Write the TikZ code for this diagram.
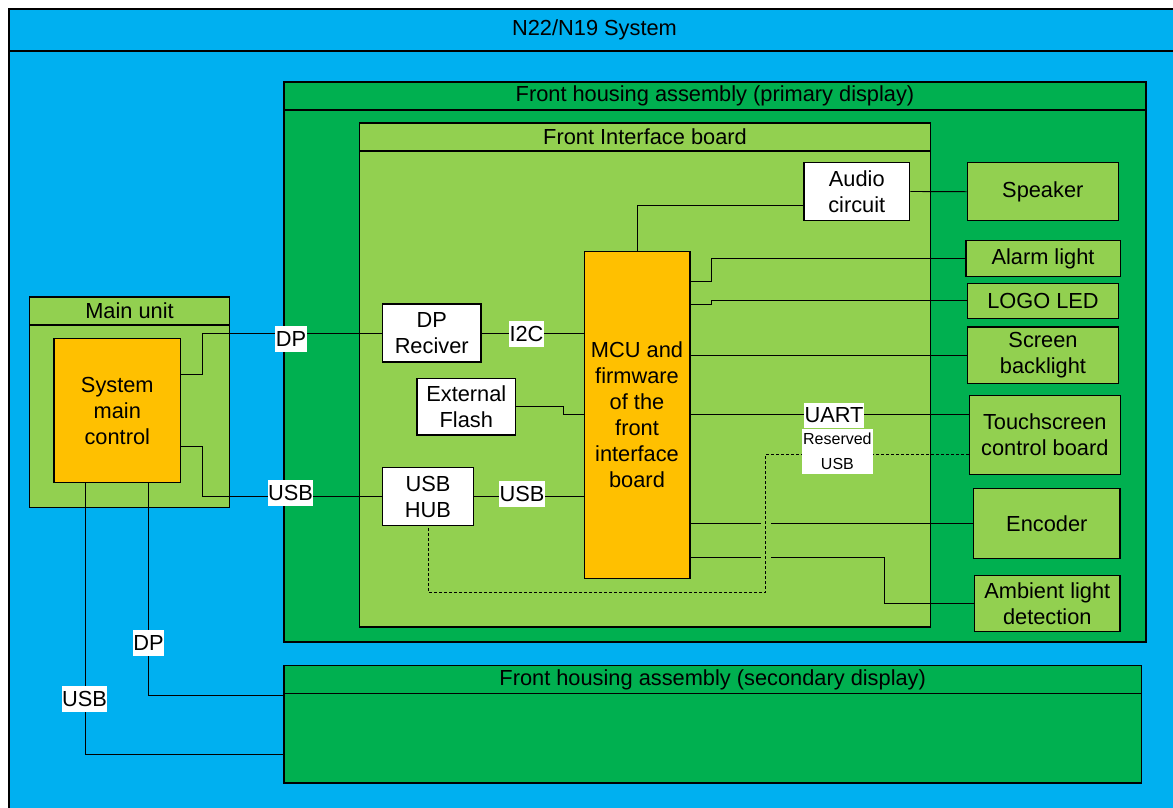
\documentclass[tikz,border=0pt]{standalone}
\usepackage{fontspec}
\setmainfont{Liberation Sans}
\definecolor{sysblue}{HTML}{00B0F0}
\definecolor{housegreen}{HTML}{00B050}
\definecolor{boardgreen}{HTML}{92D050}
\definecolor{mcuorange}{HTML}{FFC000}
\newcommand{\bodyfont}{\fontsize{21.8}{26}\selectfont}
\newcommand{\rsvfont}{\fontsize{16}{25}\selectfont}
\begin{document}
\begin{tikzpicture}[
    x=1pt, y=-1pt,
    every node/.style={font=\bodyfont, inner sep=0pt, align=center},
    boxline/.style={draw, rectangle, line width=1.4pt},
    titlebar/.style={boxline, anchor=north, minimum height=28pt},
    outbox/.style={boxline, fill=boardgreen},
    icbox/.style={boxline, fill=white},
    wire/.style={line width=0.9pt},
    rsvwire/.style={wire, dash pattern=on 3pt off 2pt},
    tagbox/.style={fill=white, inner xsep=0.5pt, minimum height=26pt},
    bridge/.style={boardgreen, line width=10pt}
]
    \clip (0,0) rectangle (1173,807);

    % System frame
    \node[boxline, fill=sysblue, minimum width=1171pt, minimum height=806pt] (sys) at (594.5,412) {};
    \node[titlebar, fill=sysblue, minimum width=1171pt, minimum height=42pt] (sysT) at (sys.north) {N22/N19 System};

    % Front housing assembly (primary display)
    \node[boxline, fill=housegreen, minimum width=862pt, minimum height=560pt] (prim) at (715,362) {};
    \node[titlebar, fill=housegreen, minimum width=862pt] (primT) at (prim.north) {Front housing assembly (primary display)};

    % Front interface board
    \node[boxline, fill=boardgreen, minimum width=571pt, minimum height=504pt] (fib) at (645,375) {};
    \node[titlebar, fill=boardgreen, minimum width=571pt] (fibT) at (fib.north) {Front Interface board};

    % Main unit
    \node[boxline, fill=boardgreen, minimum width=200pt, minimum height=210.7pt] (mainU) at (129.5,402.4) {};
    \node[titlebar, fill=boardgreen, minimum width=200pt] (mainUT) at (mainU.north) {Main unit};
    \node[boxline, fill=mcuorange, minimum width=126.6pt, minimum height=143.6pt] (sysCtl) at (117.3,410.5) {System\\main\\control};

    % Front housing assembly (secondary display)
    \node[boxline, fill=housegreen, minimum width=857.4pt, minimum height=117.3pt] (sec) at (712.7,724.4) {};
    \node[titlebar, fill=housegreen, minimum width=857.4pt] (secT) at (sec.north) {Front housing assembly (secondary display)};

    % Board parts
    \node[icbox, minimum width=98.7pt, minimum height=58pt] (dprx) at (431.7,333) {DP\\Reciver};
    \node[icbox, minimum width=98.5pt, minimum height=56.3pt] (flash) at (466.3,406.9) {External\\Flash};
    \node[icbox, minimum width=91.5pt, minimum height=58pt] (usbhub) at (428,496.7) {USB\\HUB};
    \node[icbox, minimum width=105.5pt, minimum height=57.6pt] (audio) at (856.8,191.5) {Audio\\circuit};
    \node[boxline, fill=mcuorange, minimum width=105.6pt, minimum height=327pt] (mcu) at (637,414.8) {MCU and\\firmware\\of the\\front\\interface\\board};

    % Peripherals
    \node[outbox, minimum width=150.8pt, minimum height=58pt] (speaker) at (1042.8,191.7) {Speaker};
    \node[outbox, minimum width=154.4pt, minimum height=35.6pt] (alarm) at (1043,258.5) {Alarm light};
    \node[outbox, minimum width=150.5pt, minimum height=35pt] (logo) at (1043,300.8) {LOGO LED};
    \node[outbox, minimum width=150.5pt, minimum height=56.3pt] (backlight) at (1043,355.2) {Screen\\backlight};
    \node[outbox, minimum width=151pt, minimum height=78.6pt] (touch) at (1044.8,435) {Touchscreen\\control board};
    \node[outbox, minimum width=146.4pt, minimum height=70pt] (encoder) at (1046.8,523.3) {Encoder};
    \node[outbox, minimum width=145.4pt, minimum height=56.4pt] (ambient) at (1047.3,603.5) {Ambient light\\detection};
    \coordinate (dashR) at (765.6,592.3);

    % Connections - main control to front board
    \draw[wire] ([yshift=35.8pt]sysCtl.east) -- ++(21,0) |- (dprx.west);
    \draw[wire] ([yshift=-35.8pt]sysCtl.east) -- ++(21,0) |- (usbhub.west);

    % Connections - main control to secondary display
    \draw[wire] ([xshift=31.2pt]sysCtl.south) |- ([yshift=29.4pt]sec.west);
    \draw[wire] ([xshift=-31.6pt]sysCtl.south) |- ([yshift=-29.6pt]sec.west);

    % Connections - on the front board
    \foreach \a in {dprx, usbhub}
        \draw[wire] (\a.east) -- (\a.east -| mcu.west);
    \draw[wire] (flash.east) -- ++(47.5,0) |- (mcu.west);
    \draw[wire] ([yshift=-14pt]audio.west) -| (mcu.north);
    \draw[wire] (audio.east) -- (speaker.west);

    % Connections - MCU to peripherals
    \draw[wire] ([yshift=133.5pt]mcu.east) -- ++(20.7,0) |- (alarm.west);
    \draw[wire] ([yshift=110.8pt]mcu.east) -- ++(20.7,0) |- (logo.west);
    \foreach \p in {backlight, encoder}
        \draw[wire] (\p.west -| mcu.east) -- (\p.west);
    \draw[wire] (mcu.east) -- (mcu.east -| touch.west);
    \draw[wire] ([yshift=-142.5pt]mcu.east) -- ++(193.5,0) |- (ambient.west);

    % Reserved USB
    \draw[bridge] ([yshift=8pt]dashR |- encoder.west) -- ([yshift=-42pt]dashR |- encoder.west);
    \draw[rsvwire] ([yshift=-19.3pt]touch.west) -| (dashR) -| (usbhub.south);

    % Labels
    \node[tagbox] (dpTag) at (291,339) {DP};
    \node[tagbox] (usbTag) at (290.5,493) {USB};
    \node[tagbox] (i2cTag) at (526.5,334) {I2C};
    \node[tagbox] (hubTag) at (522,494) {USB};
    \node[tagbox, minimum height=25pt] (uartTag) at (834,415.5) {UART};
    \node[tagbox, font=\rsvfont, inner xsep=1pt, minimum height=45pt] (rsvTag) at (837.4,451.5) {Reserved\\USB};
    \node[tagbox] (dp2Tag) at (148.5,643) {DP};
    \node[tagbox] (usb2Tag) at (84.5,699) {USB};
\end{tikzpicture}
\end{document}
